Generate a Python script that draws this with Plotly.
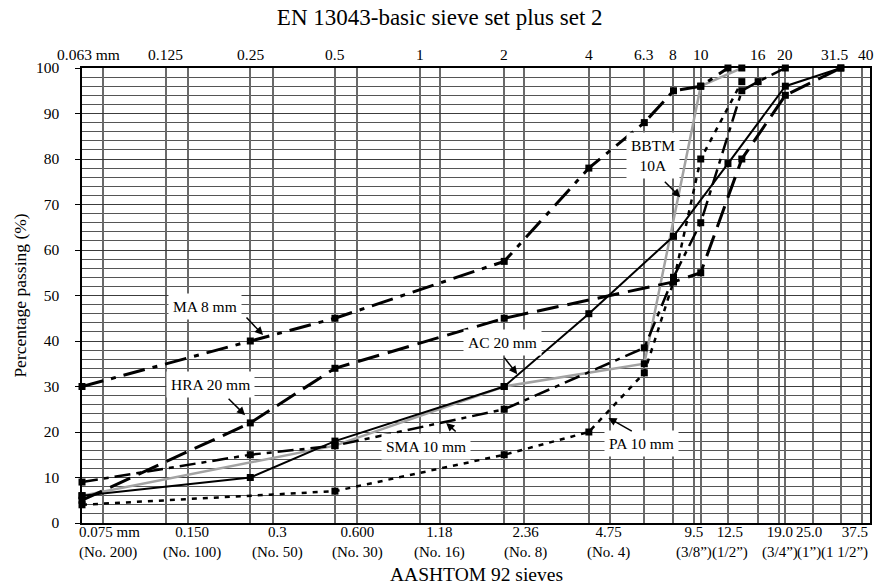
import math
import plotly.graph_objects as go

# Sieve sizes (mm): EN 13043 basic set plus set 2 (top scale), AASHTO M 92 (bottom scale)
en_sieves = [0.063, 0.125, 0.25, 0.5, 1, 2, 4, 6.3, 8, 10, 16, 20, 31.5, 40]
en_labels = ["0.063 mm", "0.125", "0.25", "0.5", "1", "2", "4", "6.3", "8", "10",
             "16", "20", "31.5", "40"]
aashto_sieves = [0.075, 0.150, 0.3, 0.600, 1.18, 2.36, 4.75, 9.5, 12.5, 19.0, 25.0, 37.5]
aashto_sizes = ["0.075 mm", "0.150", "0.3", "0.600", "1.18", "2.36", "4.75", "9.5",
                "12.5", "19.0", "25.0", "37.5"]
aashto_names = ["(No. 200)", "(No. 100)", "(No. 50)", "(No. 30)", "(No. 16)", "(No. 8)",
                "(No. 4)", "(3/8\u201d)", "(1/2\u201d)", "(3/4\u201d)", "(1\u201d)", "(1 1/2\u201d)"]

# Grading curves: sieve size (mm) and percentage passing
ac20_sizes = [0.063, 0.25, 0.5, 2, 4, 8, 12.5, 20, 31.5]
ac20_pass = [6, 10, 18, 30, 46, 63, 79, 96, 100]

hra20_sizes = [0.063, 0.25, 0.5, 2, 8, 10, 14, 20, 31.5]
hra20_pass = [5, 22, 34, 45, 53, 55, 80, 94, 100]

ma8_sizes = [0.063, 0.25, 0.5, 2, 4, 6.3, 8, 10, 12.5]
ma8_pass = [30, 40, 45, 57.5, 78, 88, 95, 96, 100]

sma10_sizes = [0.063, 0.25, 0.5, 2, 6.3, 8, 10, 14, 16, 20]
sma10_pass = [9, 15, 17, 25, 38.5, 54, 66, 95, 97, 100]

pa10_sizes = [0.063, 0.5, 2, 4, 6.3, 8, 10, 14]
pa10_pass = [4, 7, 15, 20, 33, 53, 80, 97]

bbtm10_sizes = [0.063, 0.5, 2, 6.3, 10, 14]
bbtm10_pass = [6, 17, 30, 35, 96, 100]

FONT = "Liberation Serif"


def serif(size):
    return dict(family=FONT, size=size, color="black")


fig = go.Figure()

curves = [
    (bbtm10_sizes, bbtm10_pass, "#a3a3a3", 2.5, "solid"),
    (pa10_sizes, pa10_pass, "black", 2.5, "5px,6px"),
    (sma10_sizes, sma10_pass, "black", 2.5, "16px,6px,5px,6px"),
    (hra20_sizes, hra20_pass, "black", 3, "22px,9px"),
    (ma8_sizes, ma8_pass, "black", 3, "22px,8px,5px,8px"),
    (ac20_sizes, ac20_pass, "black", 2, "solid"),
]
for sizes, passing, color, width, dash in curves:
    fig.add_trace(go.Scatter(
        x=sizes, y=passing, mode="lines+markers",
        line=dict(color=color, width=width, dash=dash),
        marker=dict(symbol="square", size=7, color="black"),
        cliponaxis=False, showlegend=False,
    ))

x_range = [math.log10(0.063), math.log10(40)]

fig.update_layout(
    width=883, height=586,
    margin=dict(l=82, r=13, t=68, b=63),
    paper_bgcolor="white", plot_bgcolor="white",
    font=serif(15.5),
    title=dict(text="EN 13043-basic sieve set plus set 2", x=0.498, xanchor="center",
               y=0.971, yanchor="middle", font=serif(23)),
    xaxis=dict(
        type="log", range=x_range,
        tickvals=sorted(en_sieves + aashto_sieves), showticklabels=False, ticks="",
        showgrid=True, gridcolor="#6a6a6a", gridwidth=1.5,
        showline=True, linecolor="black", linewidth=1.5, mirror=True,
        zeroline=False,
    ),
    yaxis=dict(
        range=[0, 100], dtick=10, tick0=0,
        ticks="outside", ticklen=5, tickcolor="black", ticklabelstandoff=13,
        tickfont=serif(15.5),
        showgrid=True, gridcolor="#3c3c3c", gridwidth=1,
        minor=dict(dtick=2, showgrid=True, gridcolor="#555555", gridwidth=1, ticks=""),
        showline=True, linecolor="black", linewidth=1.5, mirror=True,
        zeroline=False,
        title=dict(text="Percentage passing (%)", font=serif(17.5), standoff=5),
    ),
)

# Bottom axis title
fig.add_annotation(x=0.5, xref="paper", y=-0.114, yref="paper", yanchor="middle",
                   text="AASHTOM 92 sieves", showarrow=False, font=serif(19.5))

# Top scale labels (EN sieves)
top_anchor = ["left"] + ["center"] * (len(en_sieves) - 1)
top_shift = [-27, 0, 0, 0, 0, 0, 0, 0, 0, 0, 0, 0, -6, -4]
for v, lab, anc, sh in zip(en_sieves, en_labels, top_anchor, top_shift):
    fig.add_annotation(x=math.log10(v), xref="x", y=1, yref="paper",
                       yanchor="bottom", xanchor=anc, xshift=sh, yshift=3,
                       text=lab, showarrow=False, font=serif(15.5))

# Bottom scale labels (AASHTO sieves)
bot_anchor = ["left"] + ["center"] * (len(aashto_sieves) - 2) + ["right"]
bot_shift = [-26, 4, 5, 0, 0, 1, -1, 0, 2, 1, -4, 8]
for v, size_txt, name, anc, sh in zip(aashto_sieves, aashto_sizes, aashto_names,
                                      bot_anchor, bot_shift):
    fig.add_annotation(x=math.log10(v), xref="x", y=0, yref="paper",
                       yanchor="top", xanchor=anc, align=anc,
                       xshift=sh, yshift=1, font=serif(15),
                       text=f"{size_txt}<br>{name}", showarrow=False)

# Curve labels (white boxes) and their pointer arrows
labels = [
    ("MA 8 mm", 0.1726, 47.5),
    ("HRA 20 mm", 0.180, 30.5),
    ("AC 20 mm", 1.967, 39.6),
    ("SMA 10 mm", 1.056, 16.9),
    ("PA 10 mm", 6.15, 17.4),
    ("BBTM<br>10A", 6.78, 80.7),
]
for text, sx, py in labels:
    fig.add_annotation(x=math.log10(sx), y=py, text=text, showarrow=False,
                       bgcolor="white", borderpad=4, font=serif(15.5))

arrows = [
    (0.2776, 41.3, -18, -19),
    (0.2396, 23.7, -18, -18),
    (2.225, 32.7, -14, -18),
    (1.2436, 22.0, 11, 10),
    (4.691, 23.1, 25, 14),
    (8.46, 71.6, -17, -17),
]
for sx, py, dx, dy in arrows:
    fig.add_annotation(x=math.log10(sx), y=py, text="", showarrow=True,
                       ax=dx, ay=dy, arrowhead=2, arrowsize=1.1, arrowwidth=1.5,
                       arrowcolor="black", standoff=0)

fig.write_html("out.html")
